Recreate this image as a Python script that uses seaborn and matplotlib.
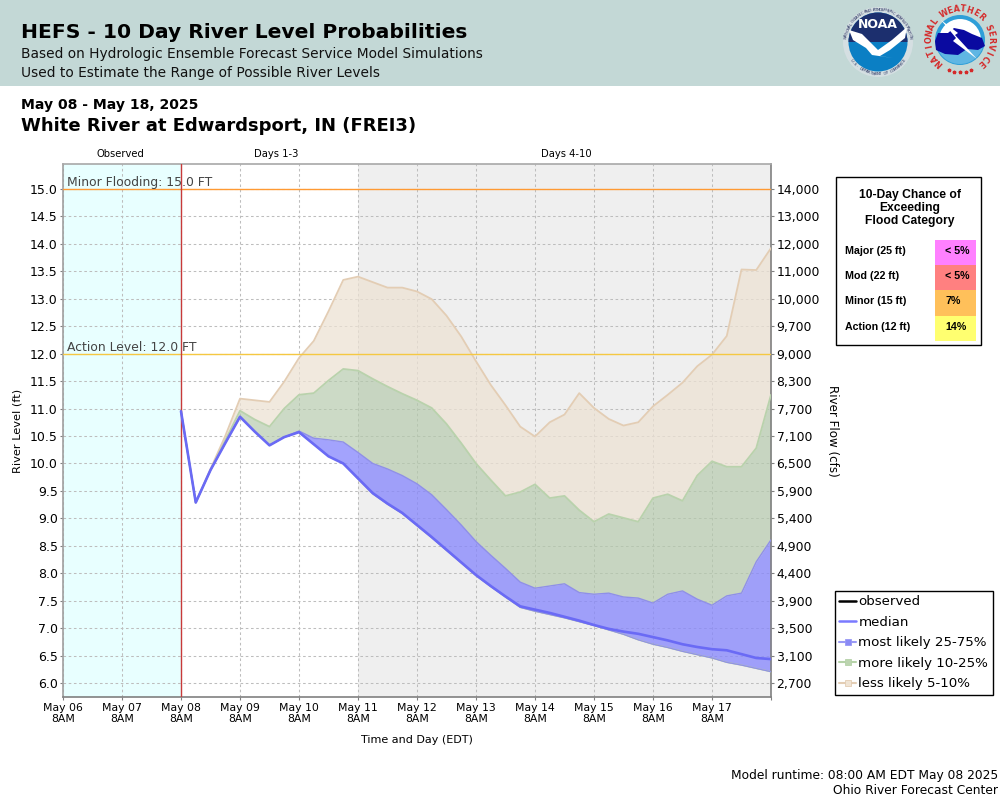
import numpy as np
import pandas as pd
import matplotlib
matplotlib.use("Agg")
import matplotlib.pyplot as plt
import seaborn as sns
from matplotlib.lines import Line2D
from matplotlib.patches import Rectangle, Circle, Polygon, Wedge

# ---- data (river level in feet, every 6 h from May 08 8AM)
median = [10.95, 9.29, 9.88, 10.37, 10.85, 10.58, 10.33, 10.48, 10.57, 10.35, 10.13, 10.00, 9.73, 9.46, 9.27, 9.10,
          8.88, 8.66, 8.43, 8.20, 7.97, 7.77, 7.58, 7.40, 7.34, 7.28, 7.21, 7.14, 7.06, 6.99, 6.94, 6.90, 6.84, 6.78,
          6.71, 6.66, 6.62, 6.60, 6.53, 6.46, 6.44]
lower = [10.95, 9.29, 9.88, 10.37, 10.85, 10.58, 10.33, 10.48, 10.57, 10.35, 10.13, 10.00, 9.72, 9.45, 9.26, 9.09,
         8.87, 8.65, 8.42, 8.19, 7.96, 7.76, 7.57, 7.38, 7.31, 7.25, 7.19, 7.12, 7.05, 6.97, 6.89, 6.79, 6.71, 6.65,
         6.58, 6.52, 6.46, 6.38, 6.33, 6.27, 6.21]
p75 = [10.95, 9.29, 9.88, 10.37, 10.85, 10.58, 10.33, 10.48, 10.59, 10.46, 10.43, 10.39, 10.20, 10.00, 9.90, 9.78,
       9.63, 9.43, 9.16, 8.88, 8.58, 8.33, 8.09, 7.84, 7.73, 7.77, 7.81, 7.65, 7.62, 7.64, 7.57, 7.55, 7.46, 7.62,
       7.68, 7.53, 7.42, 7.59, 7.64, 8.21, 8.61]
p90 = [10.95, 9.29, 9.88, 10.42, 10.96, 10.80, 10.67, 11.00, 11.25, 11.28, 11.51, 11.72, 11.69, 11.54, 11.40, 11.27,
       11.15, 11.01, 10.72, 10.37, 10.00, 9.70, 9.41, 9.48, 9.62, 9.37, 9.41, 9.15, 8.94, 9.08, 9.01, 8.94, 9.37,
       9.44, 9.32, 9.78, 10.04, 9.94, 9.94, 10.28, 11.25]
p95 = [10.95, 9.29, 9.90, 10.50, 11.18, 11.15, 11.12, 11.49, 11.92, 12.23, 12.77, 13.34, 13.40, 13.30, 13.20, 13.20,
       13.13, 12.99, 12.69, 12.31, 11.86, 11.43, 11.06, 10.67, 10.49, 10.75, 10.89, 11.28, 11.01, 10.81, 10.69, 10.75,
       11.04, 11.25, 11.47, 11.77, 11.98, 12.32, 13.53, 13.52, 13.92]

stage_ticks = [6.0, 6.5, 7.0, 7.5, 8.0, 8.5, 9.0, 9.5, 10.0, 10.5, 11.0, 11.5, 12.0, 12.5, 13.0, 13.5, 14.0, 14.5, 15.0]
flow_labels = ["2,700", "3,100", "3,500", "3,900", "4,400", "4,900", "5,400", "5,900", "6,500", "7,100", "7,700",
               "8,300", "9,000", "9,700", "10,000", "11,000", "12,000", "13,000", "14,000"]
day_labels = ["May 06", "May 07", "May 08", "May 09", "May 10", "May 11", "May 12", "May 13", "May 14", "May 15",
              "May 16", "May 17", ""]
chance_labels = ["Major (25 ft)", "Mod (22 ft)", "Minor (15 ft)", "Action (12 ft)"]
chance_values = ["< 5%", "< 5%", "7%", "14%"]
chance_colors = ["#ff80ff", "#ff8080", "#ffc05a", "#ffff70"]

# ---- build
sns.set_theme(style="white")
plt.rcParams["font.family"] = ["DejaVu Sans"]
times = pd.date_range("2025-05-08 08:00", periods=len(median), freq="6h")
days = pd.date_range("2025-05-06 08:00", "2025-05-18 08:00", freq="D")
df = pd.DataFrame({"time": times, "median": median, "lower": lower, "p75": p75, "p90": p90, "p95": p95})

BLUE, GREEN, TAN = "#8585fd", "#b4c9ab", "#ede2d3"
fig = plt.figure(figsize=(10, 8), dpi=100, facecolor="white")

page = fig.add_axes([0, 0, 1, 1], zorder=0)
page.set_xlim(0, 1000)
page.set_ylim(800, 0)
page.axis("off")

page.add_patch(Rectangle((0, 0), 1000, 86, color="#c3d8d6", lw=0))
page.text(21, 33, "HEFS - 10 Day River Level Probabilities", fontsize=14.56, fontweight="bold", va="center", color="black")
page.text(21, 54, "Based on Hydrologic Ensemble Forecast Service Model Simulations", fontsize=9.88, va="center", color="#111111")
page.text(21, 73, "Used to Estimate the Range of Possible River Levels", fontsize=9.88, va="center", color="#111111")
page.text(21, 105, "May 08 - May 18, 2025", fontsize=10.12, fontweight="bold", va="center", color="black")
page.text(21, 126, "White River at Edwardsport, IN (FREI3)", fontsize=12.98, fontweight="bold", va="center", color="black")
page.text(120, 154, "Observed", fontsize=7.2, ha="center", va="center", color="black")
page.text(276, 154, "Days 1-3", fontsize=7.2, ha="center", va="center", color="black")
page.text(566, 154, "Days 4-10", fontsize=7.2, ha="center", va="center", color="black")
page.text(18, 431, "River Level (ft)", fontsize=8.2, rotation=90, ha="center", va="center", color="black")
page.text(832, 431, "River Flow (cfs)", fontsize=8.6, rotation=-90, ha="center", va="center", color="black")
page.text(417, 740, "Time and Day (EDT)", fontsize=8, ha="center", va="center", color="black")
page.text(998, 775, "Model runtime: 08:00 AM EDT May 08 2025", fontsize=8.84, ha="right", va="center", color="black")
page.text(998, 791, "Ohio River Forecast Center", fontsize=8.84, ha="right", va="center", color="black")

# NOAA logo
page.add_patch(Circle((878, 42), 35, color="#d5dfe2", lw=0))
page.add_patch(Circle((878, 42), 29.5, color="#0b7fc4", lw=0))
page.add_patch(Wedge((878, 42), 29.5, 180, 360, color="#1c2f6e", lw=0))
page.add_patch(Polygon([(849, 30), (862, 34), (878, 50), (892, 40), (907, 27), (905, 38), (890, 50), (880, 56),
                        (893, 58), (872, 55), (866, 48), (853, 40)], color="white", lw=0))
page.text(878, 24, "NOAA", fontsize=9, fontweight="bold", color="white", ha="center", va="center")
txt = "NATIONAL OCEANIC AND ATMOSPHERIC ADMINISTRATION"
for k, ch in enumerate(txt):
    a = np.deg2rad(172 - 164 * k / (len(txt) - 1))
    page.text(878 + 32.2 * np.cos(a), 42 - 32.2 * np.sin(a), ch, fontsize=2.8, color="#26305f", ha="center",
              va="center", rotation=np.rad2deg(a) - 90)
txt = "U.S. DEPARTMENT OF COMMERCE"
for k, ch in enumerate(txt):
    a = np.deg2rad(215 + 110 * k / (len(txt) - 1))
    page.text(878 + 32.2 * np.cos(a), 42 - 32.2 * np.sin(a), ch, fontsize=2.8, color="#26305f", ha="center",
              va="center", rotation=np.rad2deg(a) + 90)

# NWS logo
page.add_patch(Circle((960, 40), 25, color="#2f9fd8", lw=0))
page.add_patch(Circle((960, 40), 21, color="white", lw=0))
page.add_patch(Wedge((960, 40), 24, 20, 160, color="#5fb6e3", lw=0))
page.add_patch(Polygon([(935, 41), (938, 33), (948, 33), (954, 28), (964, 30), (972, 34), (982, 38), (985, 46),
                        (978, 50), (967, 49), (958, 55), (945, 54), (936, 50)], color="#0a0aa0", lw=0))
page.add_patch(Polygon([(941, 20), (958, 33), (955, 35), (977, 59), (953, 41), (956, 38)], color="white", lw=0))
txt = "NATIONAL WEATHER SERVICE"
for k, ch in enumerate(txt):
    a = np.deg2rad(228 - 276 * k / (len(txt) - 1))
    page.text(960 + 31 * np.cos(a), 40 - 31 * np.sin(a), ch, fontsize=5.8, fontweight="bold", color="#d42a2a",
              ha="center", va="center", rotation=np.rad2deg(a) - 90)
page.plot([949, 954, 960, 966, 971], [70, 71.5, 72, 71.5, 70], ls="", marker="*", ms=2.5, color="#d42a2a")

# flood-category table
page.add_patch(Rectangle((836, 177), 144.5, 168, fc="white", ec="black", lw=1))
for i, line in enumerate(["10-Day Chance of", "Exceeding", "Flood Category"]):
    page.text(910, 195 + 13 * i, line, fontsize=8.7, fontweight="bold", family="Liberation Sans", ha="center", va="center", color="black")
for i, (lab, val, col) in enumerate(zip(chance_labels, chance_values, chance_colors)):
    y0 = 240 + 25.2 * i
    page.add_patch(Rectangle((935, y0), 41, 25.2, color=col, lw=0))
    page.text(845, y0 + 11, lab, fontsize=7.7, fontweight="bold", family="Liberation Sans", va="center", color="black")
    page.text(945, y0 + 11, val, fontsize=7.7, fontweight="bold", family="Liberation Sans", va="center", color="black")

# main plot
ax = fig.add_axes([63 / 1000, (800 - 697) / 800, 708 / 1000, 533 / 800], zorder=2)
ax.set_facecolor("white")
ax.axvspan(days[0], pd.Timestamp("2025-05-08 08:00"), color="#e8ffff", lw=0, zorder=0)
ax.axvspan(pd.Timestamp("2025-05-11 08:00"), days[-1], color="#efefef", lw=0, zorder=0)
ax.set_axisbelow(True)
ax.grid(True, color="#bdbdbd", lw=0.75, ls=(0, (2.5, 2.5)))

ax.fill_between(df["time"], df["p90"], df["p95"], color=TAN, alpha=0.73, lw=0, zorder=2)
ax.fill_between(df["time"], df["p75"], df["p90"], color=GREEN, alpha=0.67, lw=0, zorder=2)
ax.fill_between(df["time"], df["lower"], df["p75"], color=BLUE, alpha=0.75, lw=0, zorder=2)
sns.lineplot(data=df, x="time", y="p95", ax=ax, color="#e3cdb4", lw=1.3, zorder=3)
sns.lineplot(data=df, x="time", y="p90", ax=ax, color="#b9d2ac", lw=1.3, zorder=3)
sns.lineplot(data=df, x="time", y="p75", ax=ax, color="#8f8fe8", lw=1, zorder=3)
sns.lineplot(data=df, x="time", y="lower", ax=ax, color="#b9cfa8", lw=1, zorder=3)
sns.lineplot(data=df, x="time", y="lower", ax=ax, color="#8f8fe8", lw=0.8, zorder=3)
sns.lineplot(data=df, x="time", y="median", ax=ax, color="#6a6af5", lw=1.9, zorder=4)

ax.axhline(15.0, color="#ff9a33", lw=1, zorder=3)
ax.axhline(12.0, color="#f5c842", lw=1, zorder=3)
ax.axvline(pd.Timestamp("2025-05-08 08:00"), color="#c83a3a", lw=1, zorder=3)
ax.text(pd.Timestamp("2025-05-06 09:30"), 15.0, "Minor Flooding: 15.0 FT", fontsize=8.9, color="#444444", va="bottom")
ax.text(pd.Timestamp("2025-05-06 09:30"), 12.0, "Action Level: 12.0 FT", fontsize=8.9, color="#444444", va="bottom")

ax.set_xlim(days[0], days[-1])
ax.set_ylim(5.75, 15.45)
ax.set_xticks(days)
ax.set_xticklabels([d + "\n8AM" if d else "" for d in day_labels], fontsize=7.8, color="black", linespacing=1.2)
ax.set_yticks(stage_ticks)
ax.set_yticklabels([f"{v:.1f}" for v in stage_ticks], fontsize=9, color="black")
ax.set_xlabel("")
ax.set_ylabel("")
ax.tick_params(axis="x", which="major", length=2.5, width=0.8, color="#808080", pad=1.5, bottom=True)
ax.tick_params(axis="y", which="major", length=2.5, width=0.8, color="#808080", pad=1.2, left=True)
for s, c in zip(["left", "bottom", "right", "top"], ["#a0a0a0", "#808080", "#808080", "#a8a8a8"]):
    ax.spines[s].set_color(c)
    ax.spines[s].set_linewidth(1.2)
    ax.spines[s].set_visible(True)

rax = ax.twinx()
rax.set_ylim(ax.get_ylim())
rax.set_yticks(stage_ticks)
rax.set_yticklabels(flow_labels, fontsize=8.9, color="black")
rax.tick_params(axis="y", length=2.5, width=0.8, color="#808080", pad=1.5, right=True)
rax.grid(False)
for s in rax.spines.values():
    s.set_visible(False)

# legend
def sq(col, edge):
    return Line2D([0], [0], color=edge, lw=1.5, marker="s", ms=4.5, mfc=col, mec=edge, mew=0.6)
handles = [Line2D([0], [0], color="black", lw=1.8),
           Line2D([0], [0], color="#7a7aff", lw=1.8),
           sq("#8a8af5", "#9a9af5"), sq("#bcd4b0", "#b5d2a8"), sq("#f0e4d4", "#e3cdb4")]
labels = ["observed", "median", "most likely 25-75%", "more likely 10-25%", "less likely 5-10%"]
leg = page.legend(handles, labels, loc="upper left", bbox_to_anchor=(835, 591), bbox_transform=page.transData,
                  borderaxespad=0, fontsize=9.6, frameon=True, fancybox=False, framealpha=1, edgecolor="black",
                  facecolor="white", labelspacing=0.56, handlelength=1.25, handletextpad=0.17, borderpad=0.33,
                  labelcolor="black")
leg.get_frame().set_linewidth(1)
leg.set_zorder(10)

fig.savefig("out.png", dpi=100)
